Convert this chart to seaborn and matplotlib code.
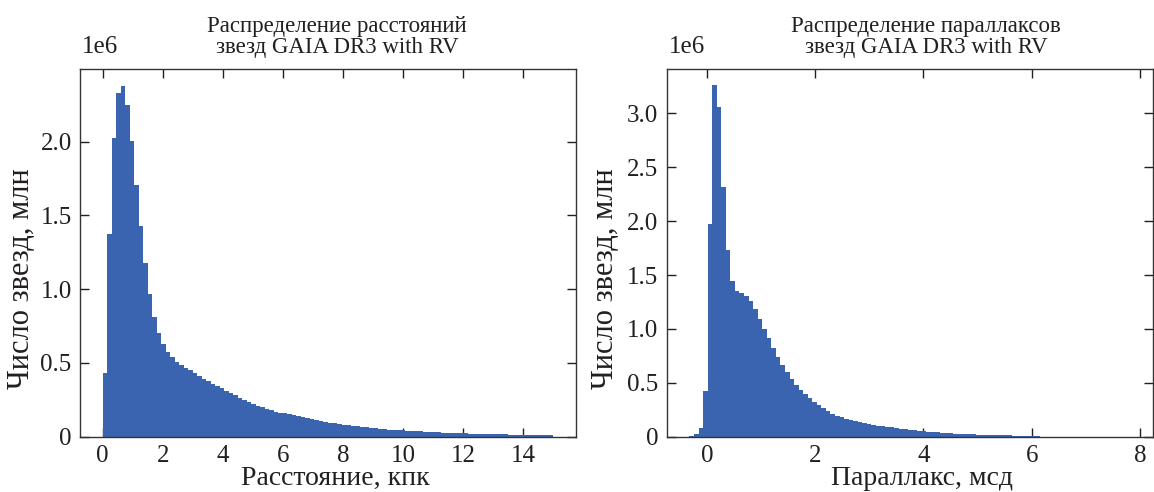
import numpy as np
import pandas as pd
import matplotlib
matplotlib.use("Agg")
import matplotlib.pyplot as plt
import seaborn as sns

# ---- data (counts in millions per bin) ----
dist_range = (0.0, 15.0)
dist_counts = [
    0.432, 1.372, 2.024, 2.330, 2.375, 2.251, 2.002, 1.704, 1.426, 1.180,
    0.967, 0.812, 0.703, 0.625, 0.575, 0.537, 0.507, 0.484, 0.466, 0.451,
    0.428, 0.410, 0.392, 0.374, 0.356, 0.342, 0.327, 0.310, 0.293, 0.279,
    0.263, 0.247, 0.234, 0.220, 0.206, 0.198, 0.188, 0.177, 0.168, 0.161,
    0.160, 0.152, 0.145, 0.139, 0.130, 0.125, 0.119, 0.113, 0.108, 0.102,
    0.095, 0.090, 0.085, 0.080, 0.077, 0.073, 0.069, 0.065, 0.062, 0.059,
    0.056, 0.053, 0.050, 0.048, 0.046, 0.044, 0.042, 0.040, 0.038, 0.036,
    0.035, 0.033, 0.031, 0.030, 0.028, 0.027, 0.026, 0.025, 0.024, 0.023,
    0.022, 0.021, 0.020, 0.019, 0.018, 0.018, 0.017, 0.016, 0.016, 0.015,
    0.014, 0.014, 0.013, 0.013, 0.012, 0.012, 0.011, 0.011, 0.010, 0.010,
]

plx_range = (-0.32, 8.08)
plx_counts = [
    0.010, 0.025, 0.080, 0.424, 1.978, 3.260, 3.058, 2.317, 1.728, 1.443,
    1.350, 1.329, 1.304, 1.258, 1.181, 1.088, 1.001, 0.912, 0.825, 0.741,
    0.667, 0.600, 0.538, 0.482, 0.433, 0.393, 0.356, 0.322, 0.291, 0.263,
    0.235, 0.213, 0.192, 0.180, 0.164, 0.155, 0.146, 0.136, 0.130, 0.120,
    0.111, 0.103, 0.097, 0.091, 0.085, 0.079, 0.074, 0.068, 0.063, 0.058,
    0.054, 0.050, 0.046, 0.043, 0.040, 0.036, 0.033, 0.031, 0.028, 0.026,
    0.024, 0.022, 0.020, 0.019, 0.017, 0.016, 0.015, 0.014, 0.013, 0.012,
    0.011, 0.010, 0.009, 0.009, 0.008, 0.007, 0.007, 0.0, 0.0, 0.0,
    0.0, 0.0, 0.0, 0.0, 0.0, 0.0, 0.0, 0.0, 0.0, 0.0,
    0.0, 0.0, 0.0, 0.0, 0.0, 0.0, 0.0, 0.0, 0.0, 0.0,
]

dist_xticks = [0, 2, 4, 6, 8, 10, 12, 14]
dist_yticks = [0, 0.5, 1.0, 1.5, 2.0]
dist_ytick_labels = ["0", "0.5", "1.0", "1.5", "2.0"]
plx_xticks = [0, 2, 4, 6, 8]
plx_yticks = [0, 0.5, 1.0, 1.5, 2.0, 2.5, 3.0]
plx_ytick_labels = ["0", "0.5", "1.0", "1.5", "2.0", "2.5", "3.0"]

titles = ["Распределение расстояний\nзвезд GAIA DR3 with RV",
          "Распределение параллаксов\nзвезд GAIA DR3 with RV"]
xlabels = ["Расстояние, кпк", "Параллакс, мсд"]
ylabel = "Число звезд, млн"
offset_label = "1e6"

BLUE = "#3A64B0"
INK = "#231F20"

sns.set_style("ticks")
plt.rcParams["font.family"] = ["Liberation Serif", "DejaVu Serif"]

W, H = 1154, 492
fig = plt.figure(figsize=(W / 100, H / 100), dpi=100)
y0, y1 = 436.6, 69.3
ax1 = fig.add_axes([80 / W, 1 - y0 / H, (576 - 80) / W, (y0 - y1) / H])
ax2 = fig.add_axes([666.7 / W, 1 - y0 / H, (1153 - 666.7) / W, (y0 - y1) / H])


def draw(ax, rng, counts, xticks, yticks, ylabels, title, xlabel, xlim, ytop,
         ylab_x, title_x, xlab_x):
    edges = np.linspace(rng[0], rng[1], len(counts) + 1)
    centers = 0.5 * (edges[:-1] + edges[1:])
    df = pd.DataFrame({"x": centers, "w": counts})
    sns.histplot(data=df, x="x", weights="w", bins=[float(e) for e in edges],
                 element="step", fill=True, alpha=1.0, color=BLUE,
                 linewidth=0, ax=ax)
    ax.set_xlim(*xlim)
    ax.set_ylim(0, ytop)
    ax.set_xticks(xticks)
    ax.set_xticklabels([str(t) for t in xticks])
    ax.set_yticks(yticks)
    ax.set_yticklabels(ylabels)
    ax.tick_params(direction="in", length=6.5, width=1.0, top=True, right=True,
                   labelsize=18, pad=6, colors=INK, labelcolor=INK)
    for s in ax.spines.values():
        s.set_linewidth(1.0)
        s.set_color("#333333")
    ax.set_title(title, fontsize=16.5, pad=11.5, linespacing=1.0, color=INK,
                 x=title_x)
    ax.set_xlabel(xlabel, fontsize=20, labelpad=-1, color=INK, x=xlab_x)
    ax.set_ylabel(ylabel, fontsize=22, color=INK)
    ax.yaxis.set_label_coords(ylab_x, 0.43)
    ax.text(0.004, 1.0436, offset_label, transform=ax.transAxes, ha="left",
            va="baseline", fontsize=18, color=INK)


draw(ax1, dist_range, dist_counts, dist_xticks, dist_yticks, dist_ytick_labels,
     titles[0], xlabels[0], (-0.75, 15.75), 2.49, -0.088, 0.518, 0.514)
draw(ax2, plx_range, plx_counts, plx_xticks, plx_yticks, plx_ytick_labels,
     titles[1], xlabels[1], (-0.74, 8.24), 3.41, -0.096, 0.533, 0.526)

fig.savefig("out.png", dpi=100)
